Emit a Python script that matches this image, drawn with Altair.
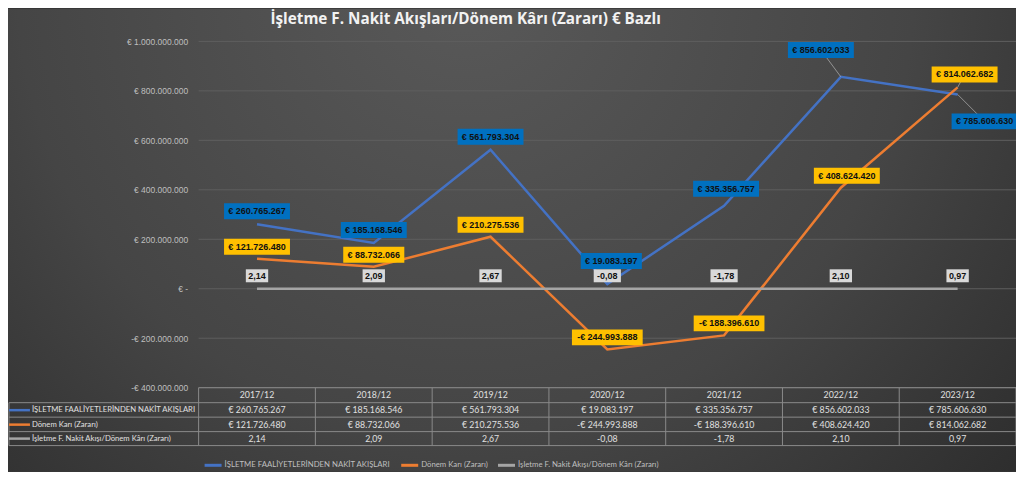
import altair as alt
import pandas as pd

# ---------------- data ----------------
categories = ["2017/12", "2018/12", "2019/12", "2020/12", "2021/12", "2022/12", "2023/12"]
faaliyet_nakit = [260765267, 185168546, 561793304, 19083197, 335356757, 856602033, 785606630]
donem_kari = [121726480, 88732066, 210275536, -244993888, -188396610, 408624420, 814062682]
oran = [2.14, 2.09, 2.67, -0.08, -1.78, 2.10, 0.97]
series_names = [
    "İŞLETME FAALİYETLERİNDEN NAKİT AKIŞLARI",
    "Dönem Karı (Zararı)",
    "İşletme F. Nakit Akışı/Dönem Kârı (Zararı)",
]
y_ticks = [-400000000, -200000000, 0, 200000000, 400000000, 600000000, 800000000, 1000000000]
title_text = "İşletme F. Nakit Akışları/Dönem Kârı (Zararı) € Bazlı"

# ---------------- styling / layout ----------------
line_colors = ["#4472C4", "#ED7D31", "#A5A5A5"]
box_colors = ["#0070C0", "#FFC000", "#D9D9D9"]
W, H = 819, 347
PAD_L, PAD_T, PAD_B = 191, 33, 84
YMIN, YMAX = -4e8, 1e9
PX_X = W / len(categories)
PX_Y = H / (YMAX - YMIN)
FONT = "Liberation Sans"
TFONT = "Lato"
TXT = "#e0e0e0"
TABLE_LINE = "#8a8a8a"

# label nudges in pixels (dx, dy) relative to the data point
default_nudge = {0: (0, -13), 1: (0, -12), 2: (0, -13)}
label_nudge = {
    (0, 3): (4, -23), (0, 4): (2, -17), (0, 5): (-20, -27), (0, 6): (27, 27),
    (1, 4): (5, -12), (1, 5): (6, -12), (1, 6): (7, -13),
}
leaders = [(0, 5), (0, 6), (1, 6)]
row_y = [369.5, 384, 398]


def fmt_eur(v):
    s = f"{abs(v):,}".replace(",", ".")
    return ("-€ " if v < 0 else "€ ") + s


def fmt_ratio(v):
    return f"{v:.2f}".replace(".", ",")


rows = []
for s, vals in enumerate([faaliyet_nakit, donem_kari, oran]):
    for i, v in enumerate(vals):
        label = fmt_ratio(v) if s == 2 else fmt_eur(v)
        dx, dy = label_nudge.get((s, i), default_nudge[s])
        w = 4.85 * len(label) + 3
        h = 16 if s < 2 else 13
        path = f"M{-w/2},{-h/2}L{w/2},{-h/2}L{w/2},{h/2}L{-w/2},{h/2}Z"
        rows.append(dict(
            s=s, series=series_names[s], i=i, cat=categories[i], value=v,
            label=label, lx=i + dx / PX_X, ly=v - dy / PX_Y, path=path,
            leader=(s, i) in leaders,
        ))
df = pd.DataFrame(rows)
cat_df = pd.DataFrame({"i": list(range(len(categories))), "cat": categories})
tick_df = pd.DataFrame({"t": y_ticks})
one = pd.DataFrame({"a": [0]})

xs = alt.Scale(domain=[-0.5, len(categories) - 0.5], nice=False, zero=False)
ys = alt.Scale(domain=[YMIN, YMAX], nice=False, zero=False)
yax = alt.Axis(
    values=y_ticks, grid=False, domain=False, ticks=False, labelPadding=11,
    labelColor="#bfbfbf", labelFontSize=8.5, labelFont=FONT, title=None, zindex=1,
    labelExpr="datum.value == 0 ? '€ -' : (datum.value < 0 ? '-€ ' : '€ ') + format(abs(datum.value), ',')",
)


def X(f):
    return alt.X(f, scale=xs, axis=None)


def Y(f):
    return alt.Y(f, scale=ys, axis=yax)


layers = []

# background
bg = alt.Chart(one).mark_rect(
    fill={"gradient": "radial", "x1": 0.45, "y1": 0.25, "x2": 0.45, "y2": 0.25, "r1": 0, "r2": 0.8,
          "stops": [{"offset": 0, "color": "#595959"}, {"offset": 0.55, "color": "#454545"},
                    {"offset": 1, "color": "#272727"}]}
).encode(x=alt.value(-PAD_L), x2=alt.value(W + 10), y=alt.value(-PAD_T), y2=alt.value(H + PAD_B))
layers.append(bg)

# gridlines
grid = alt.Chart(tick_df).mark_rule(color="#5e5e5e", strokeWidth=1).encode(
    x=alt.value(0), x2=alt.value(W), y=Y("t:Q"))
layers.append(grid)

# ---------- data table ----------
for yy, x0 in [(347, 0), (362, -PAD_L + 1), (376.5, -PAD_L + 1), (391, -PAD_L + 1), (405, -PAD_L + 1)]:
    layers.append(alt.Chart(one).mark_rule(color=TABLE_LINE, strokeWidth=1).encode(
        x=alt.value(x0), x2=alt.value(W), y=alt.value(yy)))
layers.append(alt.Chart(cat_df).transform_calculate(edge="datum.i - 0.5").mark_rule(
    color=TABLE_LINE, strokeWidth=1).encode(x=X("edge:Q"), y=alt.value(347), y2=alt.value(405)))
layers.append(alt.Chart(one).mark_rule(color=TABLE_LINE, strokeWidth=1).encode(
    x=alt.value(W), y=alt.value(347), y2=alt.value(405)))
layers.append(alt.Chart(one).mark_rule(color=TABLE_LINE, strokeWidth=1).encode(
    x=alt.value(-PAD_L + 1), y=alt.value(362), y2=alt.value(405)))
layers.append(alt.Chart(cat_df).mark_text(color=TXT, fontSize=8.8, font=TFONT).encode(
    x=X("i:Q"), y=alt.value(354.5), text="cat:N"))
for s in range(3):
    layers.append(alt.Chart(df).transform_filter(f"datum.s == {s}").mark_text(
        color=TXT, fontSize=8.8, font=TFONT).encode(x=X("i:Q"), y=alt.value(row_y[s]), text="label:N"))
    layers.append(alt.Chart(one).mark_text(
        color=TXT, fontSize=7.7, font=TFONT, align="left", text=series_names[s]).encode(
        x=alt.value(-167), y=alt.value(row_y[s])))
    layers.append(alt.Chart(one).mark_rule(color=line_colors[s], strokeWidth=2.5).encode(
        x=alt.value(-190), x2=alt.value(-169), y=alt.value(row_y[s])))

# ---------- lines ----------
lines = alt.Chart(df).mark_line(strokeWidth=2.5).encode(
    x=X("i:Q"), y=Y("value:Q"),
    color=alt.Color("series:N", scale=alt.Scale(domain=series_names, range=line_colors),
                    legend=alt.Legend(orient="none", legendX=4, legendY=414, direction="horizontal",
                                      title=None, symbolType="stroke", symbolStrokeWidth=3,
                                      symbolSize=290, labelFontSize=7.8, labelColor="#bfbfbf",
                                      labelFont=TFONT, columnPadding=3, labelOffset=1, padding=0,
                                      labelLimit=0)),
)
layers.append(lines)

# ---------- data labels ----------
layers.append(alt.Chart(df).transform_filter("datum.leader").mark_rule(
    color="#a6a6a6", strokeWidth=0.8).encode(x=X("i:Q"), y=Y("value:Q"), x2="lx:Q", y2="ly:Q"))
layers.append(alt.Chart(df).mark_point(filled=True, opacity=1, strokeWidth=0, size=4).encode(
    x=X("lx:Q"), y=Y("ly:Q"),
    shape=alt.Shape("path:N", scale=None, legend=None),
    fill=alt.Fill("series:N", scale=alt.Scale(domain=series_names, range=box_colors), legend=None)))
layers.append(alt.Chart(df).mark_text(fontWeight="bold", fontSize=9, font=FONT, color="#111111").encode(
    x=X("lx:Q"), y=Y("ly:Q"), text="label:N"))

chart = alt.layer(*layers).properties(
    width=W, height=H,
    padding={"left": PAD_L, "top": PAD_T, "right": 0, "bottom": PAD_B},
    autosize=alt.AutoSizeParams(type="none"),
    background="#303030",
    title=alt.TitleParams(title_text, anchor="start", frame="group", dx=72, dy=33, fontSize=15.3,
                          fontWeight="bold", color="#f2f2f2", font="Open Sans", offset=14),
).configure_view(stroke=None)

chart.save("out.html", embed_options={
    "renderer": "svg", "actions": False,
    "formatLocale": {"decimal": ",", "thousands": ".", "grouping": [3], "currency": ["€ ", ""]},
})
